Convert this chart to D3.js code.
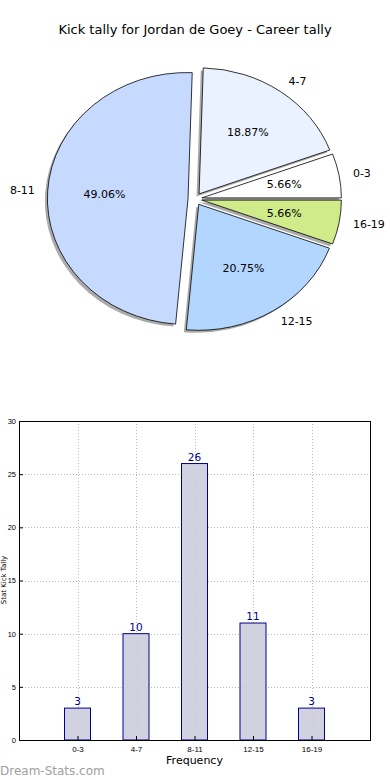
<!DOCTYPE html>
<html>
<head>
<meta charset="utf-8">
<script src="https://cdn.jsdelivr.net/npm/d3@7"></script>
<style>
  body { margin: 0; background: #fff; }
  svg { display: block; font-family: "DejaVu Sans", sans-serif; }
</style>
</head>
<body>
<svg id="chart" width="390" height="780"></svg>
<script>
// data
const categories = ["0-3", "4-7", "8-11", "12-15", "16-19"];
const tallies = [3, 10, 26, 11, 3];
const sliceColors = ["#ffffff", "#eaf2ff", "#c6d9ff", "#b3d6ff", "#cfeb8a"];
const yTicks = [0, 5, 10, 15, 20, 25, 30];

const svg = d3.select("#chart");

svg.append("text")
  .attr("x", 195).attr("y", 34)
  .attr("text-anchor", "middle")
  .style("font-size", "13px")
  .text("Kick tally for Jordan de Goey - Career tally");

// ---- pie (elliptical, matplotlib style, counter-clockwise from east)
const cx = 195, cy = 199, rx = 139.5, ry = 126, explode = 0.05;
const total = d3.sum(tallies);

const pie = d3.pie().sort(null).value(d => d)
  // d3 angles are clockwise from north; convert so slices go ccw from east
  .startAngle(Math.PI / 2).endAngle(Math.PI / 2 - 2 * Math.PI);
const arcs = pie(tallies);

// unit-radius arc, then scaled to ellipse
const arc = d3.arc().innerRadius(0).outerRadius(1);

const pieG = svg.append("g").attr("transform", `translate(${cx},${cy})`);

arcs.forEach((a, i) => {
  const mid = (a.startAngle + a.endAngle) / 2;
  // d3 angle -> x = sin, y = -cos
  const ux = Math.sin(mid), uy = -Math.cos(mid);
  const ox = ux * explode * rx, oy = uy * explode * ry;
  const g = pieG.append("g").attr("transform", `translate(${ox},${oy})`);
  const d = arc({ startAngle: Math.min(a.startAngle, a.endAngle), endAngle: Math.max(a.startAngle, a.endAngle) });

  g.append("path")
    .attr("d", d)
    .attr("transform", `translate(-2.5,2.5) scale(${rx},${ry})`)
    .attr("fill", "#666")
    .attr("fill-opacity", 0.55);

  g.append("path")
    .attr("d", d)
    .attr("transform", `scale(${rx},${ry})`)
    .attr("fill", sliceColors[i])
    .attr("stroke", "#000")
    .attr("stroke-width", 0.8)
    .attr("vector-effect", "non-scaling-stroke");

  // category label at 1.1 r
  const lx = ux * 1.1 * rx, ly = uy * 1.1 * ry;
  g.append("text")
    .attr("x", lx).attr("y", ly)
    .attr("dy", "0.35em")
    .attr("text-anchor", lx > 0 ? "start" : "end")
    .style("font-size", "11px")
    .text(categories[i]);

  // percentage at 0.6 r
  g.append("text")
    .attr("x", ux * 0.6 * rx).attr("y", uy * 0.6 * ry)
    .attr("dy", "0.35em")
    .attr("text-anchor", "middle")
    .style("font-size", "11px")
    .text((tallies[i] / total * 100).toFixed(2) + "%");
});

// ---- bar chart
const plotL = 19, plotR = 370, plotT = 421, plotB = 740;

const x = d3.scaleLinear().domain([0, 6]).range([plotL, plotR]);
const y = d3.scaleLinear().domain([0, 30]).range([plotB, plotT]);
const barW = 26;

const grid = svg.append("g")
  .attr("stroke", "#bbb")
  .attr("stroke-dasharray", "1,2")
  .attr("stroke-width", 1);

yTicks.forEach(t => {
  grid.append("line")
    .attr("x1", plotL).attr("x2", plotR)
    .attr("y1", Math.round(y(t)) + 0.5).attr("y2", Math.round(y(t)) + 0.5);
});
categories.forEach((c, i) => {
  grid.append("line")
    .attr("x1", Math.round(x(i + 1)) + 0.5).attr("x2", Math.round(x(i + 1)) + 0.5)
    .attr("y1", plotT).attr("y2", plotB);
});

svg.append("g").selectAll("rect")
  .data(tallies)
  .join("rect")
  .attr("x", (d, i) => x(i + 1) - barW / 2)
  .attr("y", d => y(d))
  .attr("width", barW)
  .attr("height", d => y(0) - y(d))
  .attr("fill", "#ccccdd")
  .attr("fill-opacity", 0.9)
  .attr("stroke", "#00008b")
  .attr("stroke-width", 1);

svg.append("g").selectAll("text")
  .data(tallies)
  .join("text")
  .attr("x", (d, i) => x(i + 1))
  .attr("y", d => y(d) - 3)
  .attr("text-anchor", "middle")
  .attr("fill", "#00008b")
  .style("font-size", "10.5px")
  .text(d => d);

// axes
const yAxis = d3.axisLeft(y).tickValues(yTicks).tickSize(-4).tickPadding(3);
svg.append("g")
  .attr("transform", `translate(${plotL},0)`)
  .call(yAxis)
  .call(g => g.select(".domain").remove())
  .selectAll("text").style("font-size", "7.5px").attr("fill", "#000");

const xAxis = d3.axisBottom(x).tickValues(categories.map((c, i) => i + 1))
  .tickFormat((d, i) => categories[i]).tickSize(-4).tickPadding(6);
svg.append("g")
  .attr("transform", `translate(0,${plotB})`)
  .call(xAxis)
  .call(g => g.select(".domain").remove())
  .selectAll("text").style("font-size", "8px").attr("fill", "#000");

svg.append("rect")
  .attr("x", plotL + 0.5).attr("y", plotT + 0.5)
  .attr("width", plotR - plotL).attr("height", plotB - plotT)
  .attr("fill", "none").attr("stroke", "#000").attr("stroke-width", 1);

svg.append("text")
  .attr("x", x(3)).attr("y", 764)
  .attr("text-anchor", "middle")
  .style("font-size", "11px")
  .text("Frequency");

svg.append("text")
  .attr("transform", `translate(6,580) rotate(-90)`)
  .attr("text-anchor", "middle")
  .style("font-size", "7px")
  .text("Stat Kick Tally");

svg.append("text")
  .attr("x", 0).attr("y", 775)
  .attr("fill", "#a0a0a0")
  .style("font-size", "12px")
  .text("Dream-Stats.com");
</script>
</body>
</html>
